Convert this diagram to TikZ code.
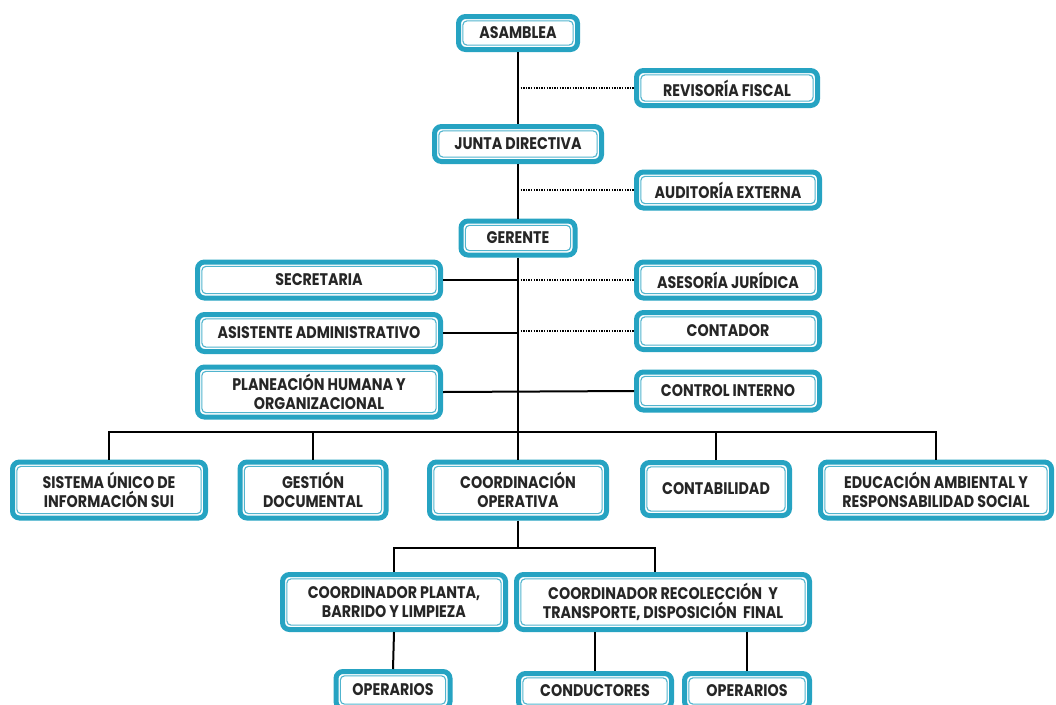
\documentclass[tikz,border=0pt]{standalone}
\usepackage{fontspec}
\setmainfont{Poppins}[FakeStretch=0.85]
\definecolor{teal1}{RGB}{38,163,194}
\definecolor{teal2}{RGB}{80,180,206}
\begin{document}
\begin{tikzpicture}[x=1pt,y=-1pt,
  box/.style={draw=teal1, line width=5pt, rounded corners=7pt, fill=white,
    font=\fontsize{16.8}{18.5}\selectfont\bfseries, text=black!85, align=center, inner sep=2pt},
  innerframe/.style={draw=teal2, line width=1.1pt, rounded corners=4pt},
  conn/.style={line width=2pt, black},
  dot/.style={line width=1.6pt, black, dash pattern=on 1.4pt off 1.2pt}]
\useasboundingbox (0,0) rectangle (1056,704);
\clip (0,0) rectangle (1056,704);
\node[box, minimum width=119, minimum height=33] (asamblea) at (518,33) {ASAMBLEA};
\node[box, minimum width=181, minimum height=35] (revisoria) at (727,88) {REVISORÍA FISCAL};
\node[box, minimum width=167, minimum height=35] (junta) at (518,144) {JUNTA DIRECTIVA};
\node[box, minimum width=183, minimum height=36] (auditoria) at (728,190) {AUDITORÍA EXTERNA};
\node[box, minimum width=114, minimum height=34] (gerente) at (518,238) {GERENTE};
\node[box, minimum width=243, minimum height=36] (secretaria) at (319,280) {SECRETARIA};
\node[box, minimum width=183, minimum height=36] (asesoria) at (728,280) {ASESORÍA JURÍDICA};
\node[box, minimum width=243, minimum height=37] (asistente) at (319,333) {ASISTENTE ADMINISTRATIVO};
\node[box, minimum width=183, minimum height=37] (contador) at (728,331) {CONTADOR};
\node[box, minimum width=243, minimum height=50] (planeacion) at (319,392) {PLANEACIÓN HUMANA Y\\ORGANIZACIONAL};
\node[box, minimum width=183, minimum height=38] (control) at (728,391) {CONTROL INTERNO};
\node[box, minimum width=193, minimum height=56] (sui) at (109,490) {SISTEMA ÚNICO DE\\INFORMACIÓN SUI};
\node[box, minimum width=146, minimum height=56] (gestion) at (313,490) {GESTIÓN\\DOCUMENTAL};
\node[box, minimum width=177, minimum height=56] (coordop) at (518,490) {COORDINACIÓN\\OPERATIVA};
\node[box, minimum width=147, minimum height=53] (contab) at (716,489) {CONTABILIDAD};
\node[box, minimum width=231, minimum height=56] (educ) at (936,490) {EDUCACIÓN AMBIENTAL Y\\RESPONSABILIDAD SOCIAL};
\node[box, minimum width=223, minimum height=55] (planta) at (394,602) {COORDINADOR PLANTA,\\BARRIDO Y LIMPIEZA};
\node[box, minimum width=293, minimum height=55] (recol) at (663,602) {COORDINADOR RECOLECCIÓN\ \ Y\\TRANSPORTE, DISPOSICIÓN\ \ FINAL};
\node[box, minimum width=114, minimum height=37] (oper1) at (393,690) {OPERARIOS};
\node[box, minimum width=153, minimum height=35] (cond) at (595,691) {CONDUCTORES};
\node[box, minimum width=125, minimum height=35] (oper2) at (747,691) {OPERARIOS};
\foreach \nn in {asamblea,revisoria,junta,auditoria,gerente,secretaria,asesoria,asistente,contador,planeacion,control,sui,gestion,coordop,contab,educ,planta,recol,oper1,cond,oper2}{
  \path (\nn.south west) ++(6.9pt,6.9pt) coordinate (ia);
  \path (\nn.north east) ++(-6.9pt,-6.9pt) coordinate (ib);
  \draw[innerframe] (ia) rectangle (ib);
}
% connectors
\coordinate (bus) at (518,432);
\coordinate (bus2) at (518,548);
\draw[conn] (asamblea.south) -- (junta.north);
\draw[conn] (junta.south) -- (gerente.north);
\draw[conn] (gerente.south) -- (bus);
\draw[dot] (asamblea.south |- revisoria.west) -- (revisoria.west);
\draw[dot] (junta.south |- auditoria.west) -- (auditoria.west);
\draw[conn] (secretaria.east) -- (gerente.south |- secretaria.east);
\draw[dot] (gerente.south |- asesoria.west) -- (asesoria.west);
\draw[conn] (asistente.east) -- (gerente.south |- asistente.east);
\draw[dot] (gerente.south |- contador.west) -- (contador.west);
\draw[conn] (planeacion.east) -- (control.west);
\draw[conn] (sui.north) |- (bus) -| (educ.north);
\draw[conn] (gestion.north) -- (gestion.north |- bus);
\draw[conn] (contab.north) -- (contab.north |- bus);
\draw[conn] (bus) -- (coordop.north);
\draw[conn] (coordop.south) -- (bus2);
\draw[conn] (planta.north) |- (bus2) -| ([xshift=-8]recol.north);
\draw[conn] (planta.south) -- (oper1.north);
\draw[conn] (cond.north) -- (cond.north |- recol.south);
\draw[conn] (oper2.north) -- (oper2.north |- recol.south);
\end{tikzpicture}
\end{document}
